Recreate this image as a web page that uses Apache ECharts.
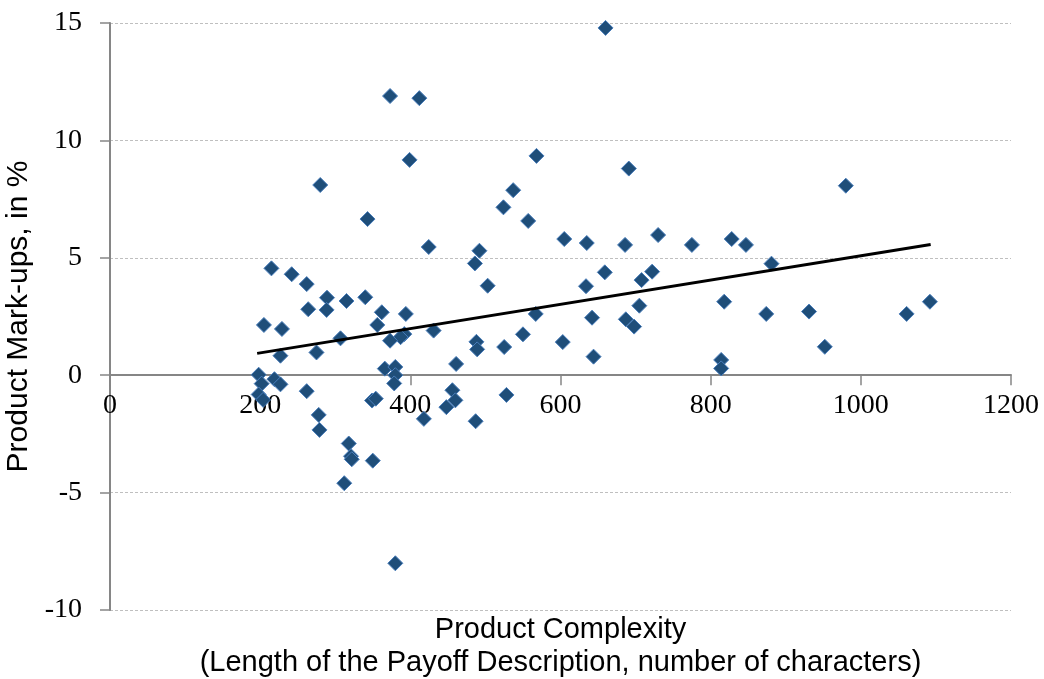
<!DOCTYPE html>
<html>
<head>
<meta charset="utf-8">
<script src="https://cdn.jsdelivr.net/npm/echarts@6/dist/echarts.min.js"></script>
<style>
html,body{margin:0;padding:0;background:#fff;}
#c{width:1044px;height:679px;}
</style>
</head>
<body>
<div id="c"></div>
<script>
// Product complexity (length of payoff description, characters)
const complexity = [
  660, 373, 412, 399, 568, 691, 280, 980, 537, 524,
  557, 343, 424.5, 605, 635, 686, 730, 775, 828, 847,
  492, 486, 881, 215, 242, 659, 722, 708, 262, 503,
  634, 289, 315, 340, 818, 1092, 705, 264, 288.5, 362,
  931, 394, 567, 874, 1061, 642, 687, 698, 205, 229,
  356, 431, 392, 387, 373, 307, 550, 488, 489, 525,
  603, 952, 227, 275, 644, 461, 814, 814, 366, 380,
  380, 378.5, 198, 202, 219, 227, 198, 204, 262, 349,
  354, 278, 279, 318, 418, 448, 456, 460, 528, 487,
  321, 322, 350, 312, 380
];
// Product mark-ups, in %
const markups = [
  14.79, 11.89, 11.80, 9.17, 9.34, 8.80, 8.10, 8.07, 7.88, 7.15,
  6.57, 6.65, 5.46, 5.80, 5.63, 5.55, 5.97, 5.55, 5.80, 5.55,
  5.30, 4.76, 4.75, 4.55, 4.30, 4.38, 4.41, 4.05, 3.88, 3.81,
  3.79, 3.30, 3.16, 3.32, 3.13, 3.13, 2.96, 2.81, 2.78, 2.68,
  2.71, 2.61, 2.61, 2.61, 2.61, 2.45, 2.38, 2.07, 2.14, 1.97,
  2.14, 1.90, 1.75, 1.62, 1.47, 1.57, 1.74, 1.42, 1.10, 1.20,
  1.41, 1.21, 0.83, 0.97, 0.79, 0.48, 0.65, 0.29, 0.28, 0.35,
  0.00, -0.35, 0.02, -0.36, -0.17, -0.39, -0.82, -1.05, -0.68, -1.08,
  -1.00, -1.69, -2.33, -2.91, -1.86, -1.36, -0.64, -1.07, -0.84, -1.96,
  -3.45, -3.58, -3.64, -4.60, -8.01
];
// Linear trend line endpoints
const trendX = [196, 1093];
const trendY = [0.93, 5.57];

const xTicks = { min: 0, max: 1200, interval: 200 };
const yTicks = { min: -10, max: 15, interval: 5 };

const points = complexity.map((x, i) => [x, markups[i]]);
const trend = trendX.map((x, i) => [x, trendY[i]]);

const gridTop = 23, gridBottom = 69, H = 679;
const plotH = H - gridTop - gridBottom;
// distance from bottom edge of plot up to the zero line
const zeroOffset = plotH * (0 - yTicks.min) / (yTicks.max - yTicks.min);

const chart = echarts.init(document.getElementById('c'), null, { renderer: 'canvas' });
chart.setOption({
  backgroundColor: '#ffffff',
  animation: false,
  grid: { left: 110, right: 33, top: gridTop, bottom: gridBottom, containLabel: false, outerBoundsMode: 'none' },
  xAxis: {
    type: 'value',
    min: xTicks.min, max: xTicks.max, interval: xTicks.interval,
    position: 'bottom',
    offset: -zeroOffset,
    name: 'Product Complexity\n(Length of the Payoff Description, number of characters)',
    nameLocation: 'middle',
    nameGap: 238,
    nameTextStyle: { fontFamily: 'Liberation Sans', fontSize: 29, color: '#000', lineHeight: 33 },
    axisLine: { onZero: false, lineStyle: { color: '#868686', width: 2 } },
    axisTick: { show: true, length: 10, inside: false, lineStyle: { color: '#868686', width: 1.5 } },
    axisLabel: { fontFamily: 'Liberation Serif', fontSize: 28, color: '#000', margin: 16, formatter: v => String(v) },
    splitLine: { show: false }
  },
  yAxis: {
    type: 'value',
    min: yTicks.min, max: yTicks.max, interval: yTicks.interval,
    name: 'Product Mark-ups, in %',
    nameLocation: 'middle',
    nameGap: 73,
    nameRotate: 90,
    nameTextStyle: { fontFamily: 'Liberation Sans', fontSize: 30, color: '#000' },
    axisLine: { show: true, onZero: false, lineStyle: { color: '#868686', width: 2 } },
    axisTick: { show: true, length: 10, inside: false, lineStyle: { color: '#868686', width: 1.5 } },
    axisLabel: { fontFamily: 'Liberation Serif', fontSize: 28, color: '#000', margin: 28, formatter: v => String(v) },
    splitLine: { show: true, lineStyle: { color: '#bfbfbf', width: 1, type: [3, 2] } }
  },
  series: [
    {
      type: 'scatter',
      data: points,
      symbol: 'diamond',
      symbolSize: 15,
      itemStyle: { color: '#1F4E79', borderColor: '#4A7EBB', borderWidth: 1, opacity: 1 },
      z: 3
    },
    {
      type: 'line',
      data: trend,
      symbol: 'none',
      lineStyle: { color: '#000', width: 3 },
      z: 4
    }
  ]
});
</script>
</body>
</html>
